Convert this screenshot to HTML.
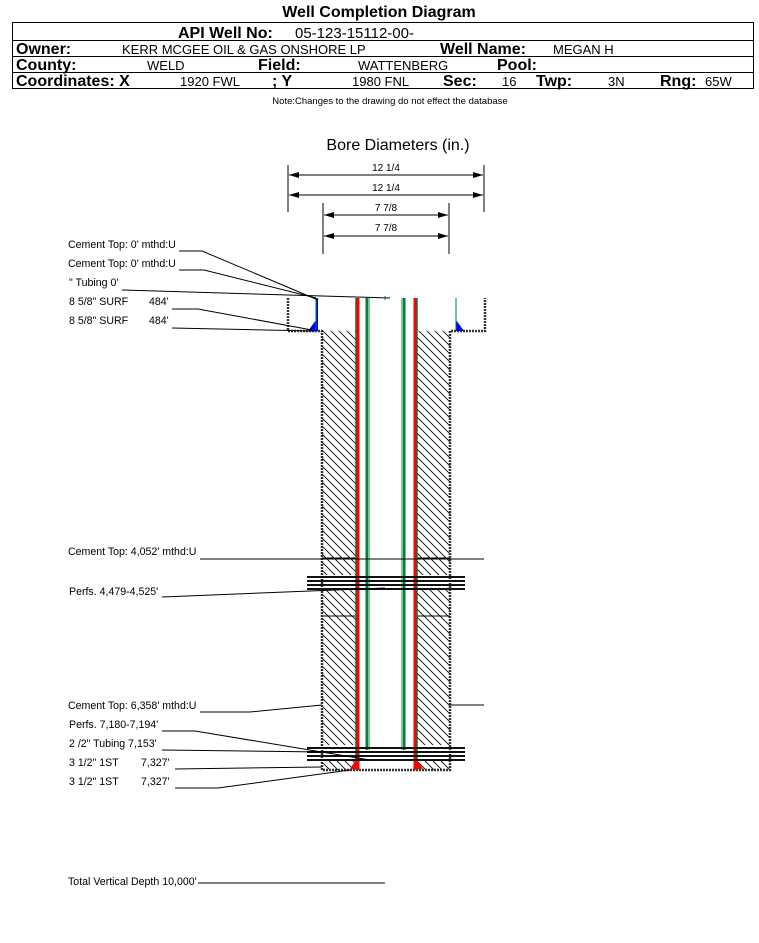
<!DOCTYPE html>
<html><head><meta charset="utf-8"><style>
html,body{margin:0;padding:0;background:#fff;}
svg{display:block;font-family:"Liberation Sans",Arial,sans-serif;}
</style></head><body>
<svg width="759" height="943" viewBox="0 0 759 943" xmlns="http://www.w3.org/2000/svg">
<defs>
<pattern id="h" patternUnits="userSpaceOnUse" width="8" height="8">
<path d="M-2,-2 L10,10 M-2,6 L2,10 M6,-2 L10,2" stroke="#000" stroke-width="0.8"/>
</pattern>
<marker id="a" markerWidth="10" markerHeight="6" refX="10" refY="3" orient="auto-start-reverse" markerUnits="userSpaceOnUse">
<path d="M0,0 L10,3 L0,6 z" fill="#000"/></marker>
</defs>
<!-- header -->
<text x="379" y="17" font-size="16" font-weight="bold" text-anchor="middle">Well Completion Diagram</text>
<rect x="12.5" y="22.5" width="741" height="66" fill="none" stroke="#000"/>
<line x1="12" y1="40.5" x2="754" y2="40.5" stroke="#000"/>
<line x1="12" y1="56.5" x2="754" y2="56.5" stroke="#000"/>
<line x1="12" y1="72.5" x2="754" y2="72.5" stroke="#000"/>
<g font-size="16" font-weight="bold">
<text x="178" y="38">API Well No:</text>
<text x="16" y="54">Owner:</text>
<text x="440" y="54">Well Name:</text>
<text x="16" y="70">County:</text>
<text x="258" y="70">Field:</text>
<text x="497" y="70">Pool:</text>
<text x="16" y="86">Coordinates: X</text>
<text x="272" y="86">; Y</text>
<text x="443" y="86">Sec:</text>
<text x="536" y="86">Twp:</text>
<text x="660" y="86">Rng:</text>
</g>
<g font-size="13">
<text x="295" y="38" font-size="15">05-123-15112-00-</text>
<text x="122" y="54">KERR MCGEE OIL &amp; GAS ONSHORE LP</text>
<text x="553" y="54">MEGAN H</text>
<text x="147" y="70">WELD</text>
<text x="358" y="70">WATTENBERG</text>
<text x="180" y="86">1920 FWL</text>
<text x="352" y="86">1980 FNL</text>
<text x="502" y="86">16</text>
<text x="608" y="86">3N</text>
<text x="705" y="86">65W</text>
</g>
<text x="390" y="104" font-size="9.5" text-anchor="middle">Note:Changes to the drawing do not effect the database</text>
<!-- dimensions -->
<text x="398" y="150" font-size="16" text-anchor="middle">Bore Diameters (in.)</text>
<g stroke="#000" stroke-width="1">
<line x1="288" y1="165" x2="288" y2="212"/><line x1="484" y1="165" x2="484" y2="212"/>
<line x1="323" y1="203" x2="323" y2="254"/><line x1="449" y1="203" x2="449" y2="254"/>
<line x1="289" y1="175" x2="483" y2="175" marker-start="url(#a)" marker-end="url(#a)"/>
<line x1="289" y1="195" x2="483" y2="195" marker-start="url(#a)" marker-end="url(#a)"/>
<line x1="324" y1="215" x2="448" y2="215" marker-start="url(#a)" marker-end="url(#a)"/>
<line x1="324" y1="236" x2="448" y2="236" marker-start="url(#a)" marker-end="url(#a)"/>
</g>
<g font-size="10" text-anchor="middle">
<text x="386" y="171">12 1/4</text><text x="386" y="191">12 1/4</text>
<text x="386" y="211">7 7/8</text><text x="386" y="231">7 7/8</text>
</g>
<!-- well body -->
<rect x="322" y="331" width="35" height="439" fill="url(#h)"/>
<rect x="416" y="331" width="34" height="439" fill="url(#h)"/>
<rect x="300" y="575" width="170" height="15" fill="#fff"/>
<rect x="300" y="745" width="170" height="16" fill="#fff"/>
<g stroke="#000" stroke-width="1">
<line x1="322" y1="558" x2="357" y2="558"/><line x1="416" y1="558" x2="450" y2="558"/>
<line x1="322" y1="616" x2="357" y2="616"/><line x1="416" y1="616" x2="450" y2="616"/>
</g>
<!-- surface casing -->
<g fill="none" stroke="#333" stroke-width="2.5" stroke-dasharray="2,1">
<path d="M288,298 V331 H322 V770 H450 V331 H485 V298"/>
</g>
<path d="M316,298 V320 L308,331 H318 V298z" fill="#0000ff"/>
<path d="M456,298 V320 L464,331 H456z" fill="#0000ff"/>
<line x1="316" y1="298" x2="316" y2="330" stroke="#007a3d" stroke-width="1"/>
<line x1="456" y1="298" x2="456" y2="330" stroke="#007a3d" stroke-width="1"/>
<!-- pipes -->
<g stroke-width="3">
<line x1="356" y1="298" x2="356" y2="770" stroke="#007a3d" stroke-width="1.5"/>
<line x1="358" y1="298" x2="358" y2="770" stroke="#ff0000"/>
<line x1="367" y1="298" x2="367" y2="750" stroke="#008040"/>
<line x1="369.5" y1="298" x2="369.5" y2="750" stroke="#7fd07f" stroke-width="1"/>
<line x1="404" y1="298" x2="404" y2="750" stroke="#008040"/>
<line x1="401.5" y1="298" x2="401.5" y2="750" stroke="#7fd07f" stroke-width="1"/>
<line x1="415" y1="298" x2="415" y2="770" stroke="#ff0000"/>
<line x1="417" y1="298" x2="417" y2="770" stroke="#007a3d" stroke-width="1.5"/>
</g>
<path d="M357,758 V769 H350z" fill="#ff0000"/>
<path d="M416,758 V769 H423z" fill="#ff0000"/>
<!-- perfs -->
<g stroke="#111" stroke-width="2">
<line x1="307" y1="577" x2="465" y2="577"/><line x1="307" y1="581" x2="465" y2="581"/>
<line x1="307" y1="585" x2="465" y2="585"/><line x1="307" y1="589" x2="465" y2="589"/>
<line x1="307" y1="748" x2="465" y2="748"/><line x1="307" y1="752" x2="465" y2="752"/>
<line x1="307" y1="756" x2="465" y2="756"/><line x1="307" y1="760" x2="465" y2="760"/>
</g>
<!-- labels -->
<g font-size="10.6">
<text x="68" y="248">Cement Top: 0' mthd:U</text>
<text x="68" y="267">Cement Top: 0' mthd:U</text>
<text x="69" y="286">" Tubing 0'</text>
<text x="69" y="305">8 5/8" SURF</text><text x="149" y="305">484'</text>
<text x="69" y="324">8 5/8" SURF</text><text x="149" y="324">484'</text>
<text x="68" y="555">Cement Top: 4,052' mthd:U</text>
<text x="69" y="595">Perfs. 4,479-4,525'</text>
<text x="68" y="709">Cement Top: 6,358' mthd:U</text>
<text x="69" y="728">Perfs. 7,180-7,194'</text>
<text x="69" y="747">2 /2" Tubing 7,153'</text>
<text x="69" y="766">3 1/2" 1ST</text><text x="141" y="766">7,327'</text>
<text x="69" y="785">3 1/2" 1ST</text><text x="141" y="785">7,327'</text>
<text x="68" y="885">Total Vertical Depth 10,000'</text>
</g>
<g fill="none" stroke="#000" stroke-width="1">
<path d="M179,251 H202 L318,300"/>
<path d="M179,270 H204 L316,298"/>
<path d="M122,290 L390,298"/>
<path d="M172,309 H198 L312,330"/>
<path d="M172,328 L315,331"/>
<path d="M200,559 H484"/>
<path d="M162,597 L385,588"/>
<path d="M200,712 H250 L322,705"/>
<path d="M450,705 H484"/>
<path d="M162,731 H195 L370,760"/>
<path d="M162,750 L322,752"/>
<path d="M175,769 L322,767"/>
<path d="M175,788 H218 L350,770"/>
<path d="M198,883 H385"/>
</g>
<line x1="385" y1="296" x2="385" y2="300" stroke="#008000"/>
</svg>
</body></html>
